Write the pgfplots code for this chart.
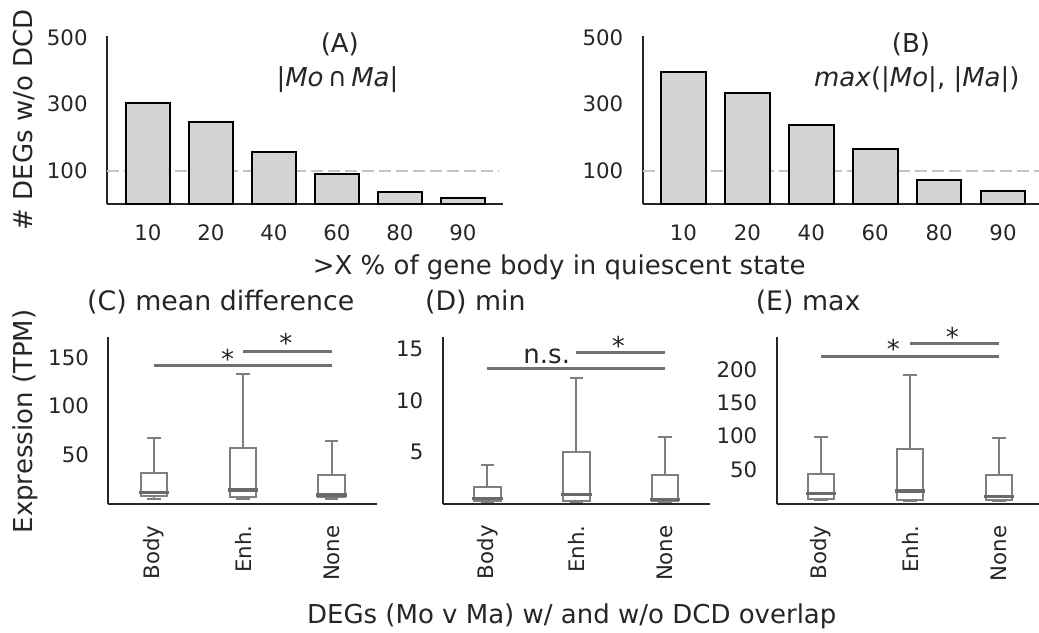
\documentclass[border=0pt]{standalone}
\usepackage{pgfplots}
\pgfplotsset{compat=1.18}
\usepgfplotslibrary{statistics}
\usepackage{fontspec}
\setmainfont{DejaVu Sans}
\definecolor{txt}{HTML}{262626}
\definecolor{barc}{HTML}{D3D3D3}
\definecolor{boxc}{HTML}{7F7F7F}
\definecolor{medc}{HTML}{6A6A6A}
\definecolor{sigc}{HTML}{707070}
\definecolor{dashc}{HTML}{C4C4C4}
\newcommand{\tickfont}{\fontsize{10.65}{12}\selectfont}
\newcommand{\labfont}{\fontsize{13}{15}\selectfont}
\newcommand{\titfont}{\fontsize{13.4}{15}\selectfont}
\pgfplotsset{
  base/.style={scale only axis, anchor=south west,
    axis x line*=bottom, axis y line*=left,
    axis line style={draw=txt, line width=1pt},
    major tick length=0pt, tick style={draw=none},
    tick label style={font=\tickfont, text=txt, inner sep=0pt},
    yticklabel shift=9.5pt,
    /pgf/number format/assume math mode=true,
    clip=false,
    label style={font=\labfont, text=txt},
    title style={font=\titfont, text=txt},
  },
  barax/.style={base, ymin=0, ymax=504, ytick={100,300,500},
    xtick={0,1,2,3,4,5}, xticklabels={10,20,40,60,80,90},
    xticklabel style={anchor=north}, xticklabel shift=10.1pt,
    width=#1, height=84pt},
  boxax/.style={base, xtick={0,1,2}, xticklabels={Body,Enh.,None},
    xticklabel style={rotate=90, anchor=east}, xticklabel shift=10.5pt,
    boxplot/draw direction=y,
    boxplot/box extend=0.3, boxplot/whisker extend=0.15,
    boxplot/every median/.style={draw=medc, line width=1.6pt, shorten <=-1pt, shorten >=-1pt},
  },
  bx/.style={draw=boxc, fill=white, line width=1pt, solid, mark=none},
  sig/.style={draw=sigc, line width=1.35pt, mark=none},
  dsh/.style={draw=dashc, line width=1pt, dash pattern=on 6pt off 2.5pt, mark=none},
  bars/.style={ybar, bar width=0.7, fill=barc, draw=black, line width=1pt},
}
\begin{document}
\begin{tikzpicture}
\path[use as bounding box] (0,0) rectangle (519.5pt,316pt);
% (A)
\begin{axis}[barax=198pt, at={(53.5pt,214pt)}, xmin=-0.648, xmax=5.638,
  ylabel={\# DEGs w/o DCD},
  ylabel style={at={(axis description cs:-0.2096,0.5)}, anchor=center, rotate=0},
  xlabel={>X \% of gene body in quiescent state},
  xlabel style={at={(axis description cs:0.5018,-0.4167)}, anchor=base west}]
\addplot[dsh] coordinates {(-0.648,100) (5.56,100)};
\addplot[bars] coordinates {(0,302) (1,247) (2,155) (3,91) (4,36) (5,19)};
\node[font=\labfont, text=txt, anchor=base] at (axis description cs:0.588,0.899) {(A)};
\node[font=\labfont, text=txt, anchor=base] at (axis description cs:0.582,0.702) {|\textit{Mo}\,∩\,\textit{Ma}|};
\end{axis}
% (B)
\begin{axis}[barax=200.6pt, at={(321.35pt,214pt)}, xmin=-0.638, xmax=5.64]
\addplot[dsh] coordinates {(-0.638,100) (5.64,100)};
\addplot[bars] coordinates {(0,397) (1,333) (2,238) (3,166) (4,73) (5,40)};
\node[font=\labfont, text=txt, anchor=base] at (axis description cs:0.6686,0.899) {(B)};
\node[font=\labfont, text=txt, anchor=base] at (axis description cs:0.6833,0.702) {\textit{max}(|\textit{Mo}|, |\textit{Ma}|)};
\end{axis}
% (C)
\begin{axis}[boxax, at={(54.15pt,64pt)}, width=134.35pt, height=83.65pt,
  xmin=-0.516, xmax=2.51, ymin=-1.56, ymax=172, ytick={50,100,150},
  title={(C) mean difference},
  title style={at={(axis description cs:-0.105,1.082)}, anchor=base west},
  ylabel={Expression (TPM)},
  ylabel style={at={(axis description cs:-0.31,0.493)}, anchor=center, rotate=0},
  xlabel={DEGs (Mo v Ma) w/ and w/o DCD overlap},
  xlabel style={at={(axis description cs:0.7134,-0.713)}, anchor=base west}]
\addplot[bx, boxplot prepared={draw position=0, lower whisker=4.1, lower quartile=6.4, median=10.4, upper quartile=30.3, upper whisker=66.6}] coordinates {};
\addplot[bx, boxplot prepared={draw position=1, lower whisker=4, lower quartile=5.7, median=13, upper quartile=56.2, upper whisker=133.3}] coordinates {};
\addplot[bx, boxplot prepared={draw position=2, lower whisker=3.8, lower quartile=5.5, median=7.8, upper quartile=28.5, upper whisker=63.8}] coordinates {};
\addplot[sig] coordinates {(0,142.3) (2,142.3)};
\addplot[sig] coordinates {(1,157) (2,157)};
\node[font=\labfont, text=txt, anchor=base] at (axis cs:0.828,138.9) {*};
\node[font=\labfont, text=txt, anchor=base] at (axis cs:1.484,155.3) {*};
\end{axis}
% (D)
\begin{axis}[boxax, at={(221.35pt,64pt)}, width=133.65pt, height=83.65pt,
  xmin=-0.502, xmax=2.506, ymin=-0.107, ymax=16.23, ytick={5,10,15},
  title={(D) min},
  title style={at={(axis description cs:-0.0924,1.0837)}, anchor=base west}]
\addplot[bx, boxplot prepared={draw position=0, lower whisker=0.05, lower quartile=0.2, median=0.4, upper quartile=1.6, upper whisker=3.7}] coordinates {};
\addplot[bx, boxplot prepared={draw position=1, lower whisker=0.05, lower quartile=0.2, median=0.84, upper quartile=5.0, upper whisker=12.2}] coordinates {};
\addplot[bx, boxplot prepared={draw position=2, lower whisker=0.05, lower quartile=0.2, median=0.35, upper quartile=2.72, upper whisker=6.46}] coordinates {};
\addplot[sig] coordinates {(0,13.14) (2,13.14)};
\addplot[sig] coordinates {(1,14.71) (2,14.71)};
\node[font=\labfont, text=txt, anchor=base] at (axis cs:0.669,13.63) {n.s.};
\node[font=\labfont, text=txt, anchor=base] at (axis cs:1.475,14.41) {*};
\end{axis}
% (E)
\begin{axis}[boxax, at={(388.35pt,63.85pt)}, width=133.4pt, height=83.8pt,
  xmin=-0.498, xmax=2.5, ymin=-2.87, ymax=250.3, ytick={50,100,150,200},
  title={(E) max},
  title style={at={(axis description cs:-0.105,1.0837)}, anchor=base west}]
\addplot[bx, boxplot prepared={draw position=0, lower whisker=3, lower quartile=5.1, median=13.7, upper quartile=42.9, upper whisker=98.8}] coordinates {};
\addplot[bx, boxplot prepared={draw position=1, lower whisker=2.5, lower quartile=3.6, median=17.2, upper quartile=80.7, upper whisker=192.4}] coordinates {};
\addplot[bx, boxplot prepared={draw position=2, lower whisker=2.5, lower quartile=4, median=8.6, upper quartile=41.4, upper whisker=96.8}] coordinates {};
\addplot[sig] coordinates {(0,220.1) (2,220.1)};
\addplot[sig] coordinates {(1,240.3) (2,240.3)};
\node[font=\labfont, text=txt, anchor=base] at (axis cs:0.812,217.2) {*};
\node[font=\labfont, text=txt, anchor=base] at (axis cs:1.475,236.1) {*};
\end{axis}
\end{tikzpicture}
\end{document}
